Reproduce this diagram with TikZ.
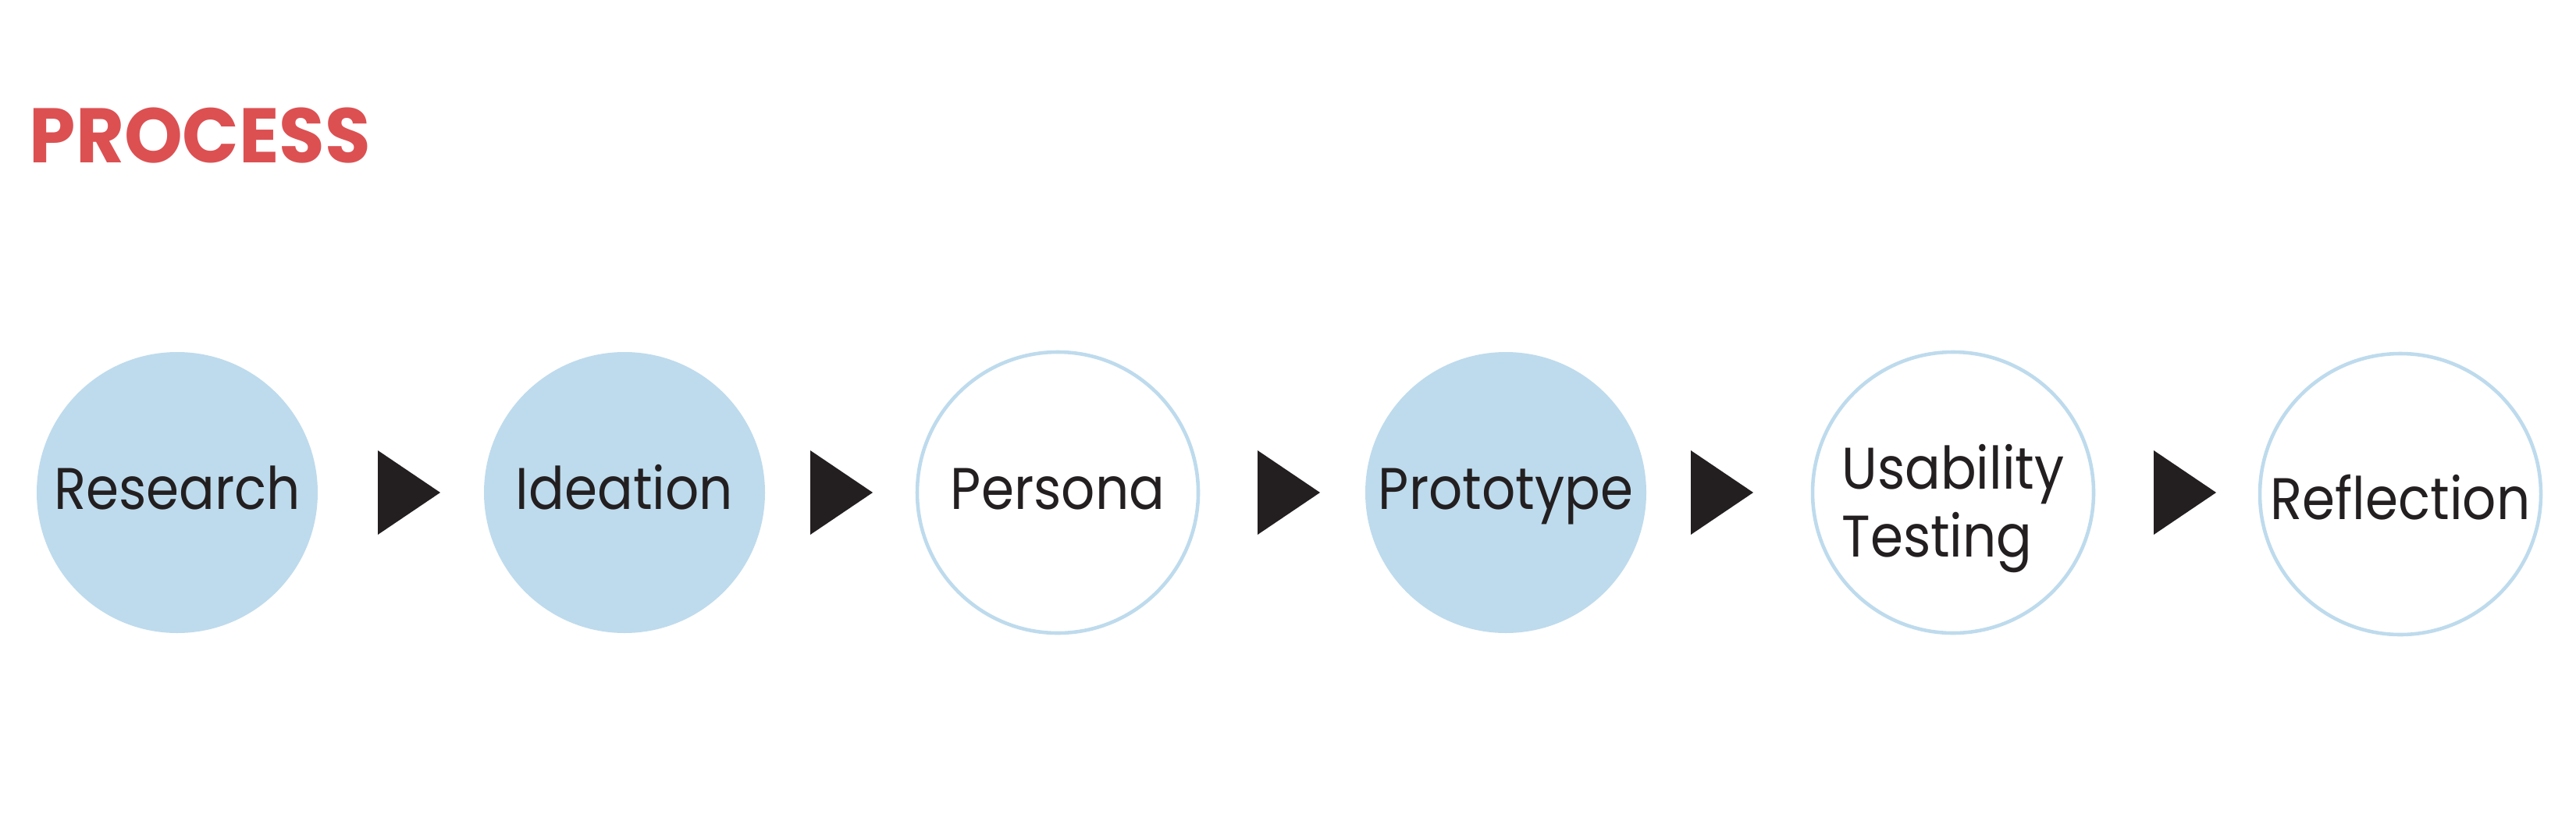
\documentclass[tikz,border=0pt]{standalone}
\usepackage{fontspec}
\setmainfont{Poppins}[FakeStretch=0.9]
\newfontfamily\titlefont{Poppins}[FakeStretch=0.96]

\definecolor{procred}{RGB}{220,80,82}
\definecolor{stepblue}{RGB}{190,219,237}
\definecolor{arrowdark}{RGB}{35,31,32}

\begin{document}
\begin{tikzpicture}[
  stepfill/.style = {circle, fill=stepblue, minimum size=3.6cm,
                     inner sep=0pt, text=arrowdark,
                     font=\fontsize{21.4}{24.7}\selectfont,
                     text height=0.52cm, text depth=0.10cm},
  stepopen/.style = {stepfill, fill=none, draw=stepblue, line width=1.3pt},
  tri/.style      = {fill=arrowdark},
]
\useasboundingbox (0,0) rectangle (33,10.7);

\node[font=\titlefont\bfseries\fontsize{28.2}{30}\selectfont, text=procred,
      anchor=base west, inner sep=0pt] (title) at (0.37,8.615) {PROCESS};

\node[stepfill] (research)  at (2.27,4.39)  {Research};
\node[stepfill] (ideation)  at (8.00,4.39)  {Ideation};
\node[stepopen] (persona)   at (13.55,4.39) {Persona};
\node[stepfill] (prototype) at (19.29,4.39) {Prototype};
\node[stepopen, align=left, text height=1.74cm, text depth=0.10cm]
  (usability) at (25.02,4.39) {Usability\\Testing};
\node[stepopen, text height=0.74cm] (reflection) at (30.75,4.37)
  {Reflection};

% triangles between the steps
\fill[tri] (4.84,4.93)  -- (5.64,4.39)  -- (4.84,3.85)  -- cycle;
\fill[tri] (10.38,4.93) -- (11.18,4.39) -- (10.38,3.85) -- cycle;
\fill[tri] (16.11,4.93) -- (16.91,4.39) -- (16.11,3.85) -- cycle;
\fill[tri] (21.66,4.93) -- (22.46,4.39) -- (21.66,3.85) -- cycle;
\fill[tri] (27.59,4.93) -- (28.39,4.39) -- (27.59,3.85) -- cycle;

\end{tikzpicture}
\end{document}
